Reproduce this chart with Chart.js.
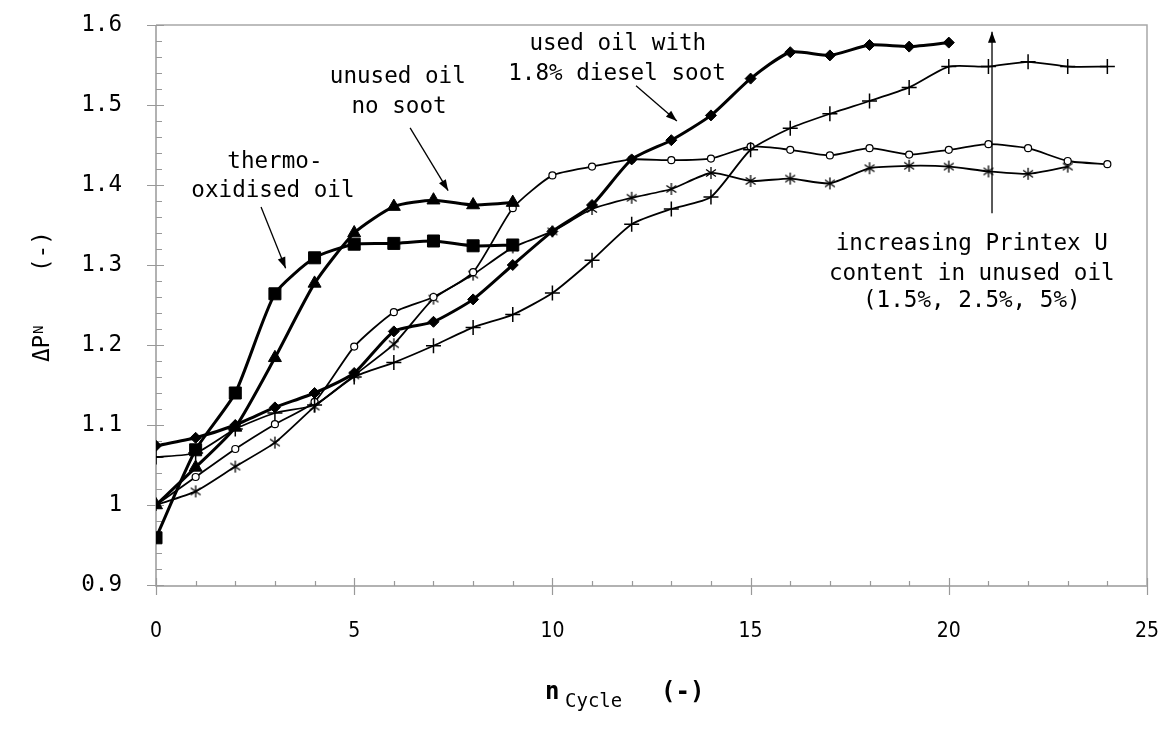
<!DOCTYPE html>
<html lang="en">
<head>
<meta charset="UTF-8">
<title>Pressure drop over cycles</title>
<script src="https://cdn.jsdelivr.net/npm/chart.js"></script>
<style>
  html, body { margin: 0; padding: 0; background: #fff; }
  #wrap { width: 1166px; height: 731px; }
</style>
</head>
<body>
<div id="wrap"><canvas id="dpChart" width="1166" height="731"></canvas></div>
<script>
// cycle number (x axis)
const cycles = [0, 1, 2, 3, 4, 5, 6, 7, 8, 9, 10, 11, 12, 13, 14, 15, 16, 17, 18, 19, 20, 21, 22, 23, 24];

// normalised pressure drop per series
const thermoOxidised = [0.959, 1.069, 1.140, 1.264, 1.309, 1.326, 1.327, 1.330, 1.324, 1.325];
const unusedNoSoot   = [1.000, 1.047, 1.097, 1.184, 1.277, 1.340, 1.373, 1.381, 1.375, 1.378];
const usedDieselSoot = [1.074, 1.084, 1.100, 1.122, 1.140, 1.165, 1.217, 1.229, 1.257, 1.300,
                        1.342, 1.375, 1.432, 1.456, 1.487, 1.533, 1.566, 1.562, 1.575, 1.573, 1.578];
// Printex U in unused oil: 1.5 %, 2.5 %, 5 %
const printexLow  = [1.000, 1.017, 1.048, 1.078, 1.123, 1.162, 1.201, 1.258, 1.288, 1.322,
                     1.342, 1.370, 1.384, 1.395, 1.415, 1.405, 1.408, 1.402, 1.421, 1.424,
                     1.423, 1.417, 1.414, 1.423];
const printexMid  = [1.000, 1.035, 1.070, 1.101, 1.129, 1.198, 1.241, 1.260, 1.291, 1.371,
                     1.412, 1.423, 1.432, 1.431, 1.433, 1.448, 1.444, 1.437, 1.446, 1.438,
                     1.444, 1.451, 1.446, 1.430, 1.426];
const printexHigh = [1.060, 1.065, 1.095, 1.115, 1.125, 1.160, 1.178, 1.199, 1.222, 1.238,
                     1.265, 1.306, 1.351, 1.370, 1.385, 1.444, 1.471, 1.489, 1.505, 1.522,
                     1.548, 1.548, 1.554, 1.548, 1.548];

// axis ticks
const xTicks = [0, 5, 10, 15, 20, 25];
const xTickLabels = ['0', '5', '10', '15', '20', '25'];
const yTicks = [0.9, 1.0, 1.1, 1.2, 1.3, 1.4, 1.5, 1.6];
const yTickLabels = ['0.9', '1', '1.1', '1.2', '1.3', '1.4', '1.5', '1.6'];

// text notes, placed in data units: [cycle, value, text]
const notes = [
  [3.00, 1.4213, 'thermo-'],
  [2.95, 1.3850, 'oxidised oil'],
  [6.10, 1.5271, 'unused oil'],
  [6.13, 1.4896, 'no soot'],
  [11.65, 1.5688, 'used oil with'],
  [11.63, 1.5312, '1.8% diesel soot'],
  [20.58, 1.3188, 'increasing Printex U'],
  [20.58, 1.2813, 'content in unused oil'],
  [20.58, 1.2475, '(1.5%, 2.5%, 5%)']
];
// arrows: [fromCycle, fromValue, toCycle, toValue]
const arrows = [
  [2.65, 1.3725, 3.27, 1.2960],
  [6.41, 1.4713, 7.37, 1.3929],
  [12.11, 1.5241, 13.14, 1.4800],
  [21.09, 1.3646, 21.09, 1.5916]
];

const MONO = '"DejaVu Sans Mono", monospace';

function pts(values) {
  return values.map((v, i) => ({ x: cycles[i], y: v }));
}

// six-armed asterisk marker
function asteriskMarker(size, lw) {
  const c = document.createElement('canvas');
  c.width = c.height = size;
  const g = c.getContext('2d');
  const m = size / 2, r = size / 2 - 1;
  g.strokeStyle = '#000';
  g.lineWidth = lw;
  g.beginPath();
  for (const a of [90, 35, 145]) {
    const rad = a * Math.PI / 180;
    g.moveTo(m - r * Math.cos(rad), m - r * Math.sin(rad));
    g.lineTo(m + r * Math.cos(rad), m + r * Math.sin(rad));
  }
  g.stroke();
  return c;
}

function arrowHead(ctx, x1, y1, x2, y2, len, half) {
  const a = Math.atan2(y2 - y1, x2 - x1);
  ctx.beginPath();
  ctx.moveTo(x2, y2);
  ctx.lineTo(x2 - len * Math.cos(a) + half * Math.sin(a), y2 - len * Math.sin(a) - half * Math.cos(a));
  ctx.lineTo(x2 - len * Math.cos(a) - half * Math.sin(a), y2 - len * Math.sin(a) + half * Math.cos(a));
  ctx.closePath();
  ctx.fill();
}

// axes, frame and tick labels
const axesPlugin = {
  id: 'axesPlugin',
  beforeDatasetsDraw(chart) {
    const { ctx, chartArea: a, scales: { x, y } } = chart;
    ctx.save();
    // frame (top + right)
    ctx.strokeStyle = '#a8a8a8';
    ctx.lineWidth = 1.5;
    ctx.beginPath();
    ctx.moveTo(a.left, a.top); ctx.lineTo(a.right, a.top); ctx.lineTo(a.right, a.bottom);
    ctx.stroke();
    // axis lines
    ctx.strokeStyle = '#999';
    ctx.lineWidth = 1.5;
    ctx.beginPath();
    ctx.moveTo(a.left, a.top); ctx.lineTo(a.left, a.bottom + 1); ctx.lineTo(a.right, a.bottom + 1);
    ctx.stroke();
    ctx.lineWidth = 1.2;
    ctx.beginPath();
    // y minor / major ticks
    for (let v = 0.9; v <= 1.6001; v += 0.02) {
      const py = Math.round(y.getPixelForValue(v)) + 0.5;
      const major = Math.abs(v * 10 - Math.round(v * 10)) < 1e-6;
      ctx.moveTo(a.left - (major ? 9 : 0), py);
      ctx.lineTo(a.left + (major ? 8 : 6), py);
    }
    // x minor / major ticks
    for (let n = 0; n <= 25; n++) {
      const px = Math.round(x.getPixelForValue(n)) + 0.5;
      const major = n % 5 === 0;
      ctx.moveTo(px, a.bottom + 1 + (major ? 9 : 0));
      ctx.lineTo(px, a.bottom + 1 - (major ? 8 : 5));
    }
    ctx.stroke();

    // tick labels
    ctx.fillStyle = '#000';
    ctx.font = '22.6px ' + MONO;
    ctx.textAlign = 'right';
    ctx.textBaseline = 'middle';
    yTicks.forEach((v, i) => ctx.fillText(yTickLabels[i], a.left - 34, y.getPixelForValue(v)));
    ctx.font = '21px "DejaVu Sans Condensed", "DejaVu Sans", sans-serif';
    ctx.textAlign = 'center';
    xTicks.forEach((n, i) => ctx.fillText(xTickLabels[i], x.getPixelForValue(n), a.bottom + 47));

    // x axis title: n_Cycle (-)
    ctx.textAlign = 'left';
    ctx.textBaseline = 'alphabetic';
    ctx.font = 'bold 24px ' + MONO;
    ctx.fillText('n', 545, 699);
    ctx.font = '19px ' + MONO;
    ctx.fillText('Cycle', 565, 707);
    ctx.font = 'bold 24px ' + MONO;
    ctx.fillText('(-)', 661, 699);

    // y axis title: ΔP_N (-)
    ctx.save();
    ctx.translate(49, 362);
    ctx.rotate(-Math.PI / 2);
    ctx.font = '22.6px ' + MONO;
    ctx.fillText('\u0394P', 0, 0);
    ctx.font = '14px ' + MONO;
    ctx.fillText('N', 28, -6);
    ctx.font = '22.6px ' + MONO;
    ctx.fillText('(-)', 90, 0);
    ctx.restore();
    ctx.restore();
  },
  afterDatasetsDraw(chart) {
    const { ctx, scales: { x, y } } = chart;
    ctx.save();
    ctx.fillStyle = '#000';
    ctx.strokeStyle = '#000';
    ctx.font = '22.6px ' + MONO;
    ctx.textAlign = 'center';
    ctx.textBaseline = 'alphabetic';
    notes.forEach(([n, v, t]) => ctx.fillText(t, x.getPixelForValue(n), y.getPixelForValue(v)));
    arrows.forEach(([n1, v1, n2, v2]) => {
      const x1 = x.getPixelForValue(n1), y1 = y.getPixelForValue(v1);
      const x2 = x.getPixelForValue(n2), y2 = y.getPixelForValue(v2);
      ctx.lineWidth = 1.3;
      ctx.beginPath();
      ctx.moveTo(x1, y1);
      ctx.lineTo(x2, y2);
      ctx.stroke();
      arrowHead(ctx, x1, y1, x2, y2, 11, 4);
    });
    ctx.restore();
  }
};

const bold = { borderColor: '#000', backgroundColor: '#000', pointBackgroundColor: '#000',
               pointBorderColor: '#000', borderWidth: 3, pointBorderWidth: 1, tension: 0.2 };
const thin = { borderColor: '#000', backgroundColor: '#000', pointBorderColor: '#000',
               borderWidth: 1.8, tension: 0.2 };

new Chart(document.getElementById('dpChart'), {
  type: 'line',
  data: {
    datasets: [
      { ...bold, label: 'thermo-oxidised oil', data: pts(thermoOxidised), pointStyle: 'rect', pointRadius: 8.5 },
      { ...bold, label: 'unused oil, no soot', data: pts(unusedNoSoot), pointStyle: 'triangle', pointRadius: 7.5 },
      { ...bold, label: 'used oil, 1.8% diesel soot', data: pts(usedDieselSoot), pointStyle: 'rectRot', pointRadius: 5.5 },
      { ...thin, label: 'Printex U 5%', data: pts(printexHigh), pointStyle: 'cross', pointRadius: 7.5, pointBorderWidth: 1.5 },
      { ...thin, label: 'Printex U 2.5%', data: pts(printexMid), pointStyle: 'circle', pointRadius: 3.5,
        pointBackgroundColor: '#fff', pointBorderWidth: 1.2 },
      { ...thin, label: 'Printex U 1.5%', data: pts(printexLow), pointStyle: asteriskMarker(14, 1.3) }
    ]
  },
  options: {
    responsive: false,
    animation: false,
    devicePixelRatio: 1,
    layout: { padding: { left: 156, right: 19, top: 25, bottom: 146 } },
    scales: {
      x: { type: 'linear', min: 0, max: 25, display: false },
      y: { type: 'linear', min: 0.9, max: 1.6, display: false }
    },
    plugins: { legend: { display: false }, tooltip: { enabled: false } }
  },
  plugins: [axesPlugin]
});
</script>
</body>
</html>
